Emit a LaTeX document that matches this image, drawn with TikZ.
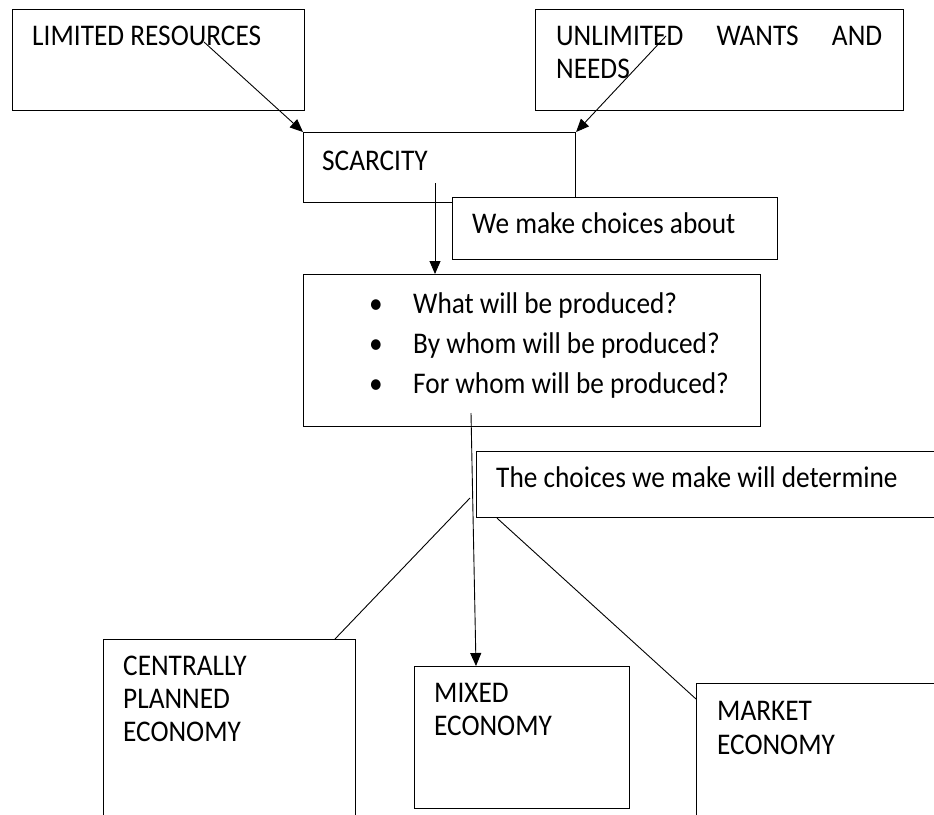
\documentclass[tikz,border=0pt]{standalone}
\usepackage{fontspec}
\setmainfont{Carlito}[FakeStretch=0.91]
\usetikzlibrary{arrows.meta, calc}

\begin{document}
\begin{tikzpicture}[x=1pt, y=-1pt,
    box/.style={draw, line width=1.1pt, fill=white, inner sep=0pt, anchor=north west},
    txt/.style={anchor=base west, inner sep=0pt, font=\fontsize{30}{33}\selectfont},
    link/.style={line width=0.9pt},
    tip/.style={link, -{Triangle[length=13pt, width=11pt]}}]
  \useasboundingbox (0, 0) rectangle (934, 814);
  \clip (0, 0) rectangle (934, 814);

  % Top row
  \node[box, minimum width=292pt, minimum height=101pt] (lim) at (12, 9) {};
  \node[box, minimum width=368pt, minimum height=101pt] (unlim) at (535, 9) {};
  \node[txt] (limtext) at (32, 45) {LIMITED RESOURCES};
  \node[txt] (unlimtext) at (556, 45) {\makebox[326pt][s]{UNLIMITED\hfill WANTS\hfill AND}};
  \node[txt] (needstext) at (556, 78) {NEEDS};

  % Scarcity and the first label
  \node[box, minimum width=272pt, minimum height=70pt] (scar) at (303, 132) {};
  \node[txt] (scartext) at (322, 170) {SCARCITY};
  \node[box, minimum width=325pt, minimum height=62pt] (choose) at (452, 197) {};
  \node[txt] (choosetext) at (472, 233) {We make choices about};

  % Questions
  \node[box, minimum width=457pt, minimum height=152pt] (qs) at (303, 274) {};
  \node[txt] (dot1) at (369, 313) {\textbullet};
  \node[txt] (dot2) at (369, 353) {\textbullet};
  \node[txt] (dot3) at (369, 393) {\textbullet};
  \node[txt] (what) at (413, 313) {What will be produced?};
  \node[txt] (bywhom) at (413, 353) {By whom will be produced?};
  \node[txt] (forwhom) at (413, 393) {For whom will be produced?};

  % Second label, runs off the right side
  \node[box, minimum width=500pt, minimum height=66pt] (det) at (476, 451) {};
  \node[txt] (dettext) at (496, 487) {The choices we make will determine};

  % Economies
  \node[box, minimum width=252pt, minimum height=200pt] (plan) at (103, 639) {};
  \node[txt] (plantext) at (123, 675) {CENTRALLY};
  \node[txt] (plantext2) at (123, 708) {PLANNED};
  \node[txt] (plantext3) at (123, 741) {ECONOMY};
  \node[box, minimum width=215pt, minimum height=142pt] (mixed) at (414, 666) {};
  \node[txt] (mixedtext) at (434, 702) {MIXED};
  \node[txt] (mixedtext2) at (434, 735) {ECONOMY};
  \node[box, minimum width=260pt, minimum height=160pt] (market) at (696, 683) {};
  \node[txt] (markettext) at (717, 720) {MARKET};
  \node[txt] (markettext2) at (717, 754) {ECONOMY};

  % Connectors
  \coordinate (limfrom) at (204, 42);
  \coordinate (unlimfrom) at (666, 36);
  \coordinate (scarfrom) at (435, 183);
  \coordinate (qsfrom) at (471, 413);
  \coordinate (split) at (470, 498);
  \draw[tip] (limfrom) -- (scar.north west);
  \draw[tip] (unlimfrom) -- (scar.north east);
  \draw[tip] (scarfrom) -- (scarfrom |- qs.north);
  \draw[tip] (qsfrom) -- ($(mixed.north west) + (62, 0)$);
  \draw[link] (split) -- ($(plan.north west) + (232, 0)$);
  \draw[link] ($(det.south west) + (21, 0)$) -- ($(market.north west) + (0, 16)$);
\end{tikzpicture}
\end{document}
